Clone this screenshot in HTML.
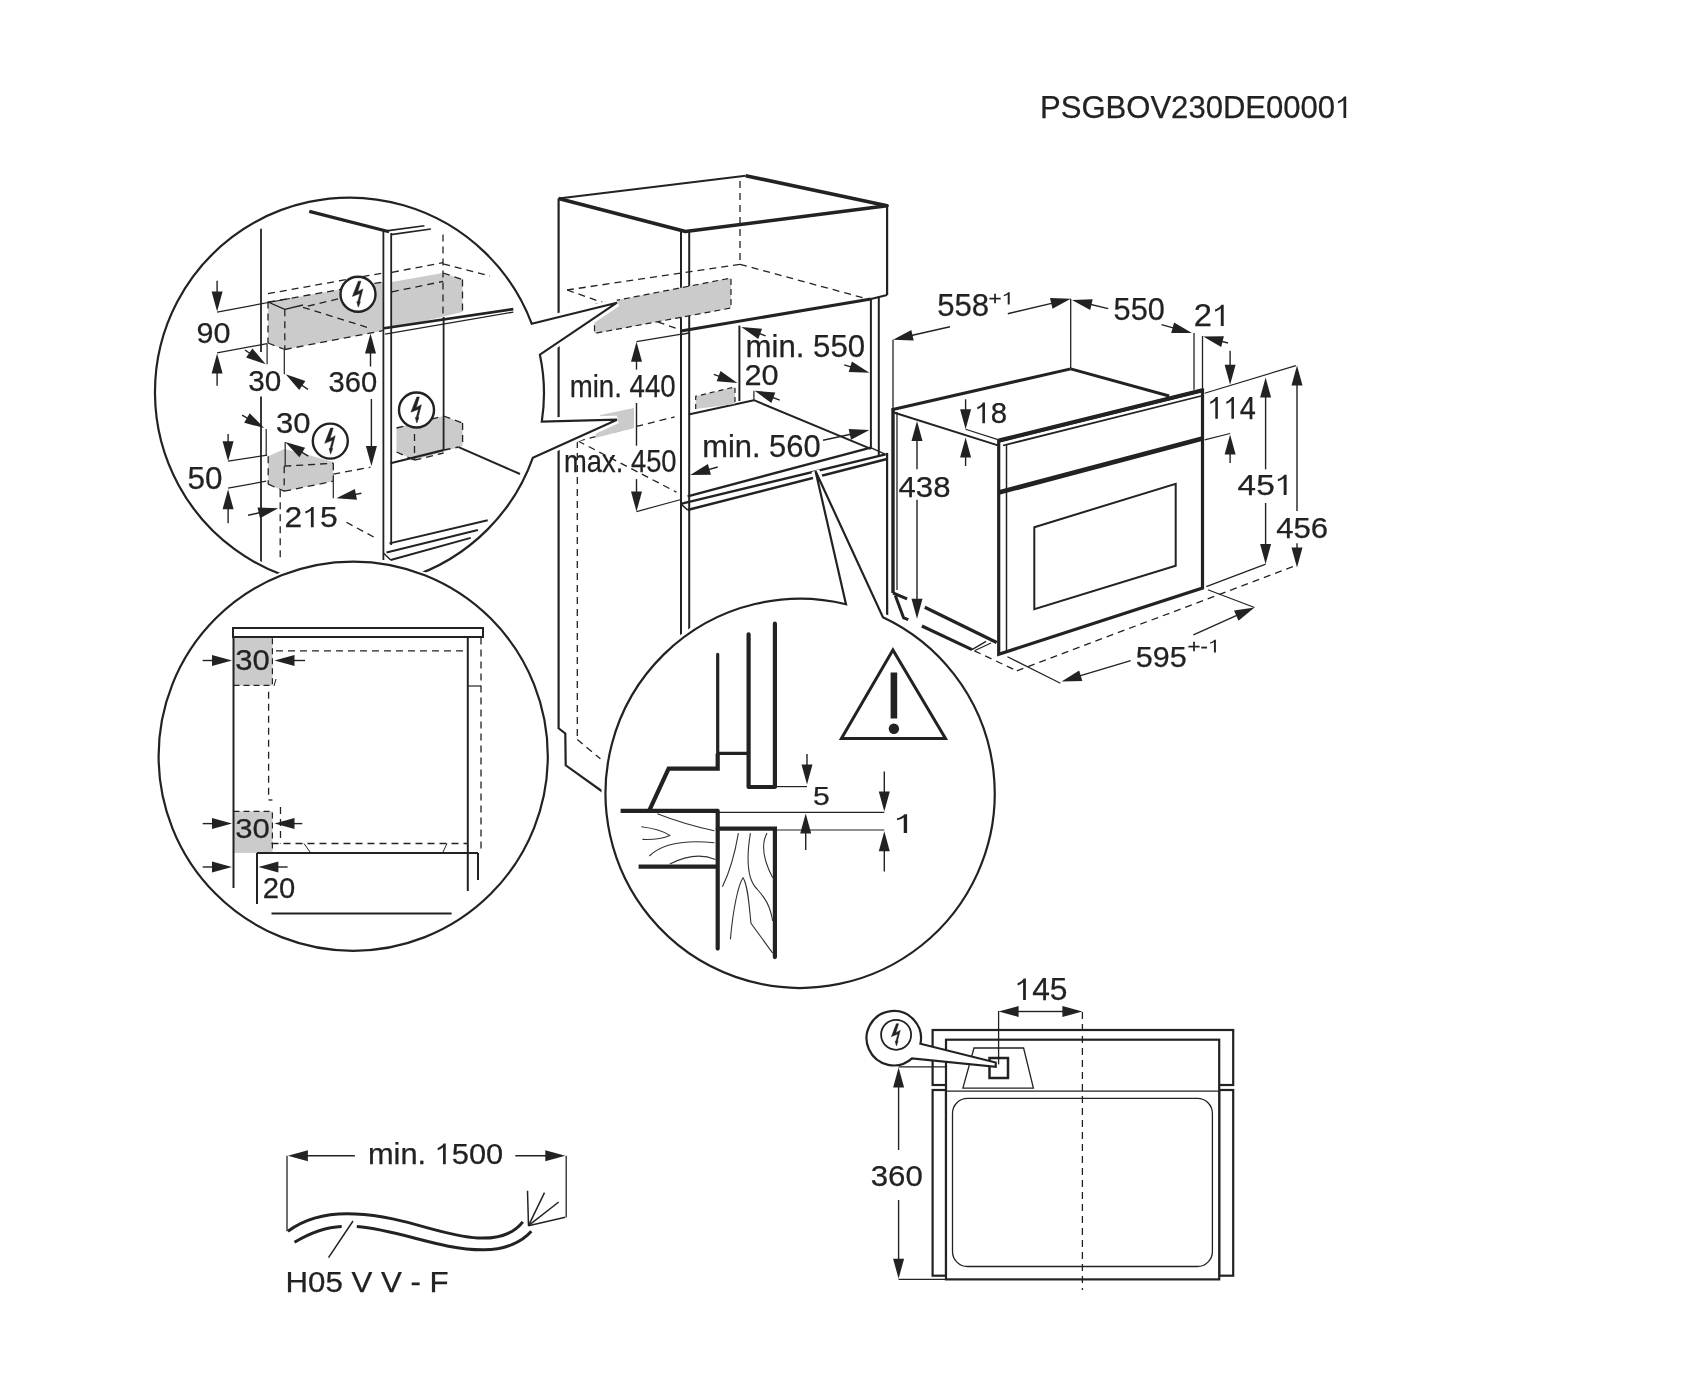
<!DOCTYPE html>
<html><head><meta charset="utf-8"><style>
html,body{margin:0;padding:0;background:#fff;}
svg{display:block;will-change:transform;font-family:"Liberation Sans",sans-serif;font-kerning:none;}
</style></head><body>
<svg width="1696" height="1400" viewBox="0 0 1696 1400">
<rect width="1696" height="1400" fill="#fff"/>
<text x="1040.05" y="117.90" font-size="31.11" textLength="312.27" lengthAdjust="spacingAndGlyphs" fill="#222" stroke="#222" stroke-width="0.25">PSGBOV230DE0000 </text>
<line x1="558.6" y1="198.6" x2="745.7" y2="175.7" stroke="#222" stroke-width="2.0" stroke-linecap="butt"/>
<polyline points="558.6,198.6 685.5,231.5 887.1,205.7 745.7,175.7" fill="none" stroke="#222" stroke-width="3.6" stroke-linejoin="round" stroke-linecap="butt"/>
<line x1="740.0" y1="181.0" x2="740.0" y2="264.3" stroke="#222" stroke-width="1.3" stroke-dasharray="7,5" stroke-linecap="butt"/>
<line x1="740.0" y1="264.3" x2="871.4" y2="300.0" stroke="#222" stroke-width="1.3" stroke-dasharray="7,5" stroke-linecap="butt"/>
<line x1="740.0" y1="264.3" x2="567.1" y2="290.0" stroke="#222" stroke-width="1.3" stroke-dasharray="7,5" stroke-linecap="butt"/>
<line x1="567.1" y1="290.0" x2="677.0" y2="328.6" stroke="#222" stroke-width="1.3" stroke-dasharray="7,5" stroke-linecap="butt"/>
<polyline points="558.6,198.6 558.6,728.3 565.3,733.5 565.7,765.3 603.0,792.0" fill="none" stroke="#222" stroke-width="2.2" stroke-linejoin="miter" stroke-linecap="butt"/>
<line x1="681.0" y1="230.5" x2="681.0" y2="640.0" stroke="#222" stroke-width="2.0" stroke-linecap="butt"/>
<line x1="689.2" y1="232.0" x2="689.2" y2="640.0" stroke="#222" stroke-width="2.0" stroke-linecap="butt"/>
<line x1="887.1" y1="205.7" x2="887.1" y2="295.0" stroke="#222" stroke-width="2.2" stroke-linecap="butt"/>
<line x1="878.8" y1="296.5" x2="878.8" y2="456.0" stroke="#222" stroke-width="2.0" stroke-linecap="butt"/>
<line x1="870.9" y1="299.0" x2="870.9" y2="449.0" stroke="#222" stroke-width="2.0" stroke-linecap="butt"/>
<line x1="887.1" y1="452.9" x2="887.1" y2="617.4" stroke="#222" stroke-width="2.2" stroke-linecap="butt"/>
<line x1="681.0" y1="331.0" x2="871.0" y2="299.0" stroke="#222" stroke-width="3.0" stroke-linecap="butt"/>
<line x1="871.0" y1="299.0" x2="887.1" y2="295.0" stroke="#222" stroke-width="2.0" stroke-linecap="butt"/>
<line x1="681.0" y1="334.5" x2="689.0" y2="333.0" stroke="#222" stroke-width="1.5" stroke-linecap="butt"/>
<polygon points="594.5,304.6 731.0,278.0 731.0,308.0 594.5,333.4" fill="#cbcbcb" stroke="none" stroke-linejoin="miter" stroke-linecap="butt"/>
<polygon points="594.5,304.6 731.0,278.0 731.0,308.0 594.5,333.4" fill="none" stroke="#222" stroke-width="1.2" stroke-dasharray="6,4" stroke-linejoin="miter" stroke-linecap="butt"/>
<line x1="739.4" y1="325.6" x2="739.4" y2="401.0" stroke="#222" stroke-width="2.0" stroke-linecap="butt"/>
<line x1="688.6" y1="414.4" x2="753.9" y2="400.2" stroke="#222" stroke-width="2.0" stroke-linecap="butt"/>
<line x1="753.9" y1="400.2" x2="870.9" y2="448.9" stroke="#222" stroke-width="2.0" stroke-linecap="butt"/>
<polygon points="695.7,396.3 735.0,386.9 735.0,404.1 695.7,408.9" fill="#cbcbcb" stroke="none" stroke-linejoin="miter" stroke-linecap="butt"/>
<polyline points="695.7,408.9 695.7,396.3 735.0,386.9 735.0,404.1" fill="none" stroke="#222" stroke-width="1.2" stroke-dasharray="5,4" stroke-linejoin="miter" stroke-linecap="butt"/>
<line x1="687.6" y1="496.4" x2="870.7" y2="447.6" stroke="#222" stroke-width="2.4" stroke-linecap="butt"/>
<line x1="680.8" y1="503.9" x2="885.6" y2="454.4" stroke="#222" stroke-width="2.4" stroke-linecap="butt"/>
<line x1="687.6" y1="510.0" x2="887.0" y2="459.0" stroke="#222" stroke-width="2.4" stroke-linecap="butt"/>
<line x1="680.8" y1="503.9" x2="687.6" y2="510.0" stroke="#222" stroke-width="1.5" stroke-linecap="butt"/>
<line x1="870.7" y1="447.6" x2="885.6" y2="454.4" stroke="#222" stroke-width="1.5" stroke-linecap="butt"/>
<line x1="577.3" y1="441.0" x2="577.3" y2="739.6" stroke="#222" stroke-width="1.3" stroke-dasharray="7,5" stroke-linecap="butt"/>
<line x1="577.3" y1="739.6" x2="600.4" y2="758.8" stroke="#222" stroke-width="1.3" stroke-dasharray="7,5" stroke-linecap="butt"/>
<line x1="578.0" y1="441.0" x2="676.4" y2="492.1" stroke="#222" stroke-width="1.3" stroke-dasharray="7,5" stroke-linecap="butt"/>
<line x1="578.0" y1="441.0" x2="674.6" y2="416.9" stroke="#222" stroke-width="1.3" stroke-dasharray="7,5" stroke-linecap="butt"/>
<polygon points="600.0,415.0 634.0,408.0 634.0,428.0 595.0,438.0" fill="#cbcbcb" stroke="none" stroke-linejoin="miter" stroke-linecap="butt"/>
<line x1="636.5" y1="341.7" x2="680.0" y2="334.3" stroke="#222" stroke-width="1.2" stroke-linecap="butt"/>
<line x1="636.5" y1="369.6" x2="636.5" y2="353.7" stroke="#222" stroke-width="1.4" stroke-linecap="butt"/>
<polygon points="636.5,341.7 642.0,361.7 631.0,361.7" fill="#222"/>
<line x1="636.5" y1="403.0" x2="636.5" y2="445.7" stroke="#222" stroke-width="1.4" stroke-linecap="butt"/>
<line x1="636.5" y1="479.1" x2="636.5" y2="499.6" stroke="#222" stroke-width="1.4" stroke-linecap="butt"/>
<polygon points="636.5,511.6 631.0,491.6 642.0,491.6" fill="#222"/>
<line x1="636.5" y1="511.6" x2="681.0" y2="499.5" stroke="#222" stroke-width="1.2" stroke-linecap="butt"/>
<text x="569.66" y="397.40" font-size="30.81" textLength="106.02" lengthAdjust="spacingAndGlyphs" fill="#222" stroke="#222" stroke-width="0.25">min. 440</text>
<text x="564.08" y="471.70" font-size="30.52" textLength="112.48" lengthAdjust="spacingAndGlyphs" fill="#222" stroke="#222" stroke-width="0.25">max. 450</text>
<text x="745.53" y="357.00" font-size="30.81" textLength="119.59" lengthAdjust="spacingAndGlyphs" fill="#222" stroke="#222" stroke-width="0.25">min. 550</text>
<line x1="765.6" y1="335.8" x2="752.6" y2="331.1" stroke="#222" stroke-width="1.4" stroke-linecap="butt"/>
<polygon points="741.3,327.1 762.0,328.7 758.3,339.0" fill="#222"/>
<line x1="844.2" y1="364.9" x2="857.9" y2="369.2" stroke="#222" stroke-width="1.4" stroke-linecap="butt"/>
<polygon points="869.4,372.7 848.7,372.0 851.9,361.5" fill="#222"/>
<text x="744.46" y="384.50" font-size="28.78" textLength="34.14" lengthAdjust="spacingAndGlyphs" fill="#222" stroke="#222" stroke-width="0.25">20</text>
<line x1="713.8" y1="374.3" x2="726.1" y2="378.8" stroke="#222" stroke-width="1.4" stroke-linecap="butt"/>
<polygon points="737.4,382.9 716.7,381.2 720.5,370.9" fill="#222"/>
<line x1="779.8" y1="400.2" x2="765.8" y2="395.0" stroke="#222" stroke-width="1.4" stroke-linecap="butt"/>
<polygon points="754.6,390.8 775.3,392.6 771.4,402.9" fill="#222"/>
<line x1="753.9" y1="390.8" x2="753.9" y2="400.2" stroke="#222" stroke-width="1.2" stroke-linecap="butt"/>
<text x="702.15" y="456.60" font-size="30.52" textLength="118.56" lengthAdjust="spacingAndGlyphs" fill="#222" stroke="#222" stroke-width="0.25">min. 560</text>
<line x1="823.0" y1="440.3" x2="857.7" y2="432.7" stroke="#222" stroke-width="1.4" stroke-linecap="butt"/>
<polygon points="869.4,430.1 851.0,439.8 848.7,429.0" fill="#222"/>
<line x1="717.7" y1="467.0" x2="701.7" y2="471.6" stroke="#222" stroke-width="1.4" stroke-linecap="butt"/>
<polygon points="690.2,474.9 707.9,464.1 710.9,474.7" fill="#222"/>
<path d="M 532.8 457.8 A 194.6 194.6 0 1 1 531.7 323.7 L 617 302.7 L 539.9 354.7 Q 547 388 541.8 421.6 L 617 419.7 Z" fill="white" stroke="white" stroke-width="8" stroke-linejoin="bevel"/>
<path d="M 532.8 457.8 A 194.6 194.6 0 1 1 531.7 323.7 L 617 302.7 L 539.9 354.7 Q 547 388 541.8 421.6 L 617 419.7 Z" fill="none" stroke="#222" stroke-width="2.2" stroke-linejoin="miter"/>
<clipPath id="c1"><circle cx="349.6" cy="392.3" r="191.1"/></clipPath>
<g clip-path="url(#c1)">
<polygon points="268.0,302.2 382.8,282.0 382.8,330.7 284.8,349.5 268.0,343.0" fill="#cbcbcb" stroke="none" stroke-linejoin="miter" stroke-linecap="butt"/>
<polygon points="391.9,282.0 443.1,273.0 462.5,279.5 462.5,311.9 391.9,328.8" fill="#cbcbcb" stroke="none" stroke-linejoin="miter" stroke-linecap="butt"/>
<polygon points="268.2,456.2 284.5,449.0 312.0,456.0 333.3,462.0 333.3,481.2 284.2,491.2 268.2,484.2" fill="#cbcbcb" stroke="none" stroke-linejoin="miter" stroke-linecap="butt"/>
<polygon points="396.5,428.0 443.6,416.0 462.6,423.0 462.6,446.0 414.5,460.0 396.5,452.0" fill="#cbcbcb" stroke="none" stroke-linejoin="miter" stroke-linecap="butt"/>
<line x1="309.3" y1="211.4" x2="389.1" y2="231.8" stroke="#222" stroke-width="3.2" stroke-linecap="butt"/>
<line x1="386.4" y1="230.9" x2="424.4" y2="225.7" stroke="#222" stroke-width="1.6" stroke-linecap="butt"/>
<line x1="391.0" y1="234.6" x2="430.9" y2="229.0" stroke="#222" stroke-width="1.6" stroke-linecap="butt"/>
<line x1="383.4" y1="231.0" x2="383.4" y2="560.0" stroke="#222" stroke-width="1.8" stroke-linecap="butt"/>
<line x1="391.2" y1="233.0" x2="391.2" y2="545.0" stroke="#222" stroke-width="1.8" stroke-linecap="butt"/>
<line x1="261.0" y1="228.7" x2="261.0" y2="352.1" stroke="#222" stroke-width="1.8" stroke-linecap="butt"/>
<line x1="261.0" y1="396.4" x2="261.0" y2="575.0" stroke="#222" stroke-width="1.8" stroke-linecap="butt"/>
<line x1="443.0" y1="234.6" x2="443.0" y2="317.0" stroke="#222" stroke-width="1.3" stroke-dasharray="7,5" stroke-linecap="butt"/>
<line x1="462.5" y1="279.5" x2="462.5" y2="311.9" stroke="#222" stroke-width="1.3" stroke-dasharray="7,5" stroke-linecap="butt"/>
<line x1="443.6" y1="317.0" x2="443.6" y2="450.1" stroke="#222" stroke-width="1.8" stroke-linecap="butt"/>
<line x1="268.0" y1="293.7" x2="382.8" y2="273.0" stroke="#222" stroke-width="1.3" stroke-dasharray="7,5" stroke-linecap="butt"/>
<line x1="391.9" y1="272.3" x2="443.1" y2="262.6" stroke="#222" stroke-width="1.3" stroke-dasharray="7,5" stroke-linecap="butt"/>
<line x1="443.1" y1="263.9" x2="490.0" y2="276.0" stroke="#222" stroke-width="1.3" stroke-dasharray="7,5" stroke-linecap="butt"/>
<line x1="268.0" y1="302.2" x2="382.8" y2="282.0" stroke="#222" stroke-width="1.3" stroke-dasharray="7,5" stroke-linecap="butt"/>
<line x1="391.9" y1="291.8" x2="443.1" y2="281.4" stroke="#222" stroke-width="1.3" stroke-dasharray="7,5" stroke-linecap="butt"/>
<line x1="443.1" y1="273.0" x2="462.5" y2="279.5" stroke="#222" stroke-width="1.3" stroke-dasharray="7,5" stroke-linecap="butt"/>
<line x1="268.0" y1="301.5" x2="268.0" y2="343.0" stroke="#222" stroke-width="1.3" stroke-dasharray="7,5" stroke-linecap="butt"/>
<line x1="268.0" y1="302.0" x2="284.8" y2="309.3" stroke="#222" stroke-width="1.3" stroke-linecap="butt"/>
<line x1="284.8" y1="309.3" x2="303.0" y2="305.0" stroke="#222" stroke-width="1.3" stroke-linecap="butt"/>
<line x1="284.8" y1="309.3" x2="284.8" y2="349.5" stroke="#222" stroke-width="1.3" stroke-dasharray="7,5" stroke-linecap="butt"/>
<line x1="338.0" y1="298.9" x2="303.0" y2="307.3" stroke="#222" stroke-width="1.3" stroke-dasharray="7,5" stroke-linecap="butt"/>
<line x1="303.0" y1="307.3" x2="371.7" y2="328.8" stroke="#222" stroke-width="1.3" stroke-dasharray="7,5" stroke-linecap="butt"/>
<line x1="284.8" y1="349.5" x2="382.8" y2="330.7" stroke="#222" stroke-width="1.3" stroke-dasharray="7,5" stroke-linecap="butt"/>
<line x1="268.0" y1="343.0" x2="284.8" y2="349.5" stroke="#222" stroke-width="1.3" stroke-dasharray="7,5" stroke-linecap="butt"/>
<line x1="384.0" y1="328.2" x2="513.3" y2="309.1" stroke="#222" stroke-width="2.6" stroke-linecap="butt"/>
<line x1="385.0" y1="334.2" x2="513.3" y2="312.1" stroke="#222" stroke-width="1.3" stroke-linecap="butt"/>
<line x1="217.1" y1="280.7" x2="217.1" y2="299.4" stroke="#222" stroke-width="1.4" stroke-linecap="butt"/>
<polygon points="217.1,311.4 211.6,291.4 222.6,291.4" fill="#222"/>
<line x1="217.1" y1="312.1" x2="290.0" y2="298.5" stroke="#222" stroke-width="1.2" stroke-linecap="butt"/>
<line x1="217.1" y1="385.7" x2="217.1" y2="365.6" stroke="#222" stroke-width="1.4" stroke-linecap="butt"/>
<polygon points="217.1,353.6 222.6,373.6 211.6,373.6" fill="#222"/>
<line x1="217.1" y1="352.9" x2="267.1" y2="343.6" stroke="#222" stroke-width="1.2" stroke-linecap="butt"/>
<line x1="267.1" y1="343.6" x2="267.1" y2="364.3" stroke="#222" stroke-width="1.2" stroke-linecap="butt"/>
<text x="196.47" y="342.90" font-size="30.23" textLength="34.03" lengthAdjust="spacingAndGlyphs" fill="#222" stroke="#222" stroke-width="0.25">90</text>
<line x1="245.0" y1="350.0" x2="255.8" y2="357.5" stroke="#222" stroke-width="1.4" stroke-linecap="butt"/>
<polygon points="265.7,364.3 246.1,357.5 252.4,348.4" fill="#222"/>
<text x="248.17" y="391.40" font-size="30.23" textLength="32.99" lengthAdjust="spacingAndGlyphs" fill="#222" stroke="#222" stroke-width="0.25">30</text>
<line x1="307.9" y1="389.3" x2="295.6" y2="381.0" stroke="#222" stroke-width="1.4" stroke-linecap="butt"/>
<polygon points="285.7,374.3 305.4,380.9 299.2,390.1" fill="#222"/>
<line x1="284.3" y1="350.0" x2="284.3" y2="374.3" stroke="#222" stroke-width="1.2" stroke-linecap="butt"/>
<line x1="370.5" y1="366.4" x2="370.5" y2="345.5" stroke="#222" stroke-width="1.4" stroke-linecap="butt"/>
<polygon points="370.5,333.5 376.0,353.5 365.0,353.5" fill="#222"/>
<text x="328.59" y="392.40" font-size="29.94" textLength="48.65" lengthAdjust="spacingAndGlyphs" fill="#222" stroke="#222" stroke-width="0.25">360</text>
<line x1="371.4" y1="398.9" x2="371.4" y2="454.0" stroke="#222" stroke-width="1.4" stroke-linecap="butt"/>
<polygon points="371.4,466.0 365.9,446.0 376.9,446.0" fill="#222"/>
<line x1="333.3" y1="474.2" x2="370.4" y2="467.2" stroke="#222" stroke-width="1.3" stroke-dasharray="7,5" stroke-linecap="butt"/>
<line x1="266.2" y1="429.1" x2="266.2" y2="455.2" stroke="#222" stroke-width="1.2" stroke-linecap="butt"/>
<line x1="242.1" y1="415.1" x2="253.9" y2="422.0" stroke="#222" stroke-width="1.4" stroke-linecap="butt"/>
<polygon points="264.2,428.1 244.2,422.7 249.7,413.2" fill="#222"/>
<text x="276.02" y="433.10" font-size="29.07" textLength="34.49" lengthAdjust="spacingAndGlyphs" fill="#222" stroke="#222" stroke-width="0.25">30</text>
<line x1="308.3" y1="456.2" x2="295.4" y2="448.4" stroke="#222" stroke-width="1.4" stroke-linecap="butt"/>
<polygon points="285.2,442.1 305.1,447.8 299.4,457.2" fill="#222"/>
<line x1="285.2" y1="442.1" x2="285.2" y2="466.2" stroke="#222" stroke-width="1.2" stroke-linecap="butt"/>
<line x1="284.2" y1="466.2" x2="284.2" y2="491.2" stroke="#222" stroke-width="1.3" stroke-dasharray="7,5" stroke-linecap="butt"/>
<line x1="284.2" y1="466.2" x2="333.3" y2="463.2" stroke="#222" stroke-width="1.3" stroke-dasharray="7,5" stroke-linecap="butt"/>
<line x1="268.2" y1="456.2" x2="268.2" y2="484.2" stroke="#222" stroke-width="1.3" stroke-dasharray="7,5" stroke-linecap="butt"/>
<line x1="268.2" y1="484.2" x2="284.2" y2="491.2" stroke="#222" stroke-width="1.3" stroke-dasharray="7,5" stroke-linecap="butt"/>
<line x1="284.2" y1="491.2" x2="333.3" y2="481.2" stroke="#222" stroke-width="1.3" stroke-dasharray="7,5" stroke-linecap="butt"/>
<line x1="333.3" y1="463.2" x2="333.3" y2="481.2" stroke="#222" stroke-width="1.3" stroke-dasharray="7,5" stroke-linecap="butt"/>
<line x1="280.2" y1="490.2" x2="280.2" y2="562.0" stroke="#222" stroke-width="1.3" stroke-dasharray="7,5" stroke-linecap="butt"/>
<line x1="228.1" y1="461.2" x2="267.2" y2="455.2" stroke="#222" stroke-width="1.2" stroke-linecap="butt"/>
<line x1="228.1" y1="488.2" x2="266.2" y2="481.2" stroke="#222" stroke-width="1.2" stroke-linecap="butt"/>
<line x1="228.1" y1="434.1" x2="228.1" y2="449.2" stroke="#222" stroke-width="1.4" stroke-linecap="butt"/>
<polygon points="228.1,461.2 222.6,441.2 233.6,441.2" fill="#222"/>
<line x1="228.1" y1="523.3" x2="228.1" y2="501.2" stroke="#222" stroke-width="1.4" stroke-linecap="butt"/>
<polygon points="228.1,489.2 233.6,509.2 222.6,509.2" fill="#222"/>
<text x="187.49" y="488.75" font-size="30.52" textLength="34.99" lengthAdjust="spacingAndGlyphs" fill="#222" stroke="#222" stroke-width="0.25">50</text>
<line x1="248.1" y1="515.3" x2="266.5" y2="511.0" stroke="#222" stroke-width="1.4" stroke-linecap="butt"/>
<polygon points="278.2,508.3 260.0,518.2 257.5,507.5" fill="#222"/>
<line x1="333.3" y1="481.2" x2="333.3" y2="498.3" stroke="#222" stroke-width="1.2" stroke-linecap="butt"/>
<line x1="361.4" y1="493.2" x2="348.1" y2="495.9" stroke="#222" stroke-width="1.4" stroke-linecap="butt"/>
<polygon points="336.3,498.3 354.8,488.9 357.0,499.7" fill="#222"/>
<text x="284.60" y="527.30" font-size="29.51" textLength="53.03" lengthAdjust="spacingAndGlyphs" fill="#222" stroke="#222" stroke-width="0.25">2 5</text>
<line x1="346.4" y1="522.3" x2="374.4" y2="537.4" stroke="#222" stroke-width="1.3" stroke-dasharray="7,5" stroke-linecap="butt"/>
<line x1="414.5" y1="434.1" x2="414.5" y2="460.2" stroke="#222" stroke-width="1.3" stroke-dasharray="7,5" stroke-linecap="butt"/>
<line x1="396.5" y1="428.0" x2="443.6" y2="416.0" stroke="#222" stroke-width="1.3" stroke-dasharray="7,5" stroke-linecap="butt"/>
<line x1="443.6" y1="416.0" x2="462.6" y2="423.0" stroke="#222" stroke-width="1.3" stroke-dasharray="7,5" stroke-linecap="butt"/>
<line x1="462.6" y1="423.0" x2="462.6" y2="446.0" stroke="#222" stroke-width="1.3" stroke-dasharray="7,5" stroke-linecap="butt"/>
<line x1="396.5" y1="452.0" x2="414.5" y2="460.2" stroke="#222" stroke-width="1.3" stroke-dasharray="7,5" stroke-linecap="butt"/>
<line x1="414.5" y1="460.2" x2="443.6" y2="453.0" stroke="#222" stroke-width="1.3" stroke-dasharray="7,5" stroke-linecap="butt"/>
<line x1="390.5" y1="463.2" x2="443.6" y2="450.1" stroke="#222" stroke-width="2.2" stroke-linecap="butt"/>
<line x1="443.6" y1="450.1" x2="458.6" y2="447.1" stroke="#222" stroke-width="1.5" stroke-dasharray="7,5" stroke-linecap="butt"/>
<line x1="458.6" y1="447.1" x2="520.0" y2="474.0" stroke="#222" stroke-width="2.0" stroke-linecap="butt"/>
<line x1="389.5" y1="543.4" x2="487.7" y2="520.3" stroke="#222" stroke-width="2.0" stroke-linecap="butt"/>
<line x1="386.5" y1="552.5" x2="477.9" y2="530.0" stroke="#222" stroke-width="2.0" stroke-linecap="butt"/>
<line x1="390.7" y1="560.0" x2="470.7" y2="537.9" stroke="#222" stroke-width="2.0" stroke-linecap="butt"/>
<line x1="383.4" y1="553.0" x2="390.7" y2="560.0" stroke="#222" stroke-width="1.5" stroke-linecap="butt"/>
</g>
<circle cx="358" cy="294.2" r="17.5" fill="white" stroke="#222" stroke-width="2.4"/>
<polygon points="358.30,281.20 360.90,281.20 357.70,291.80 362.90,288.90 359.60,301.70 360.40,301.70 358.30,307.20 356.80,301.70 357.70,301.70 360.00,293.40 352.40,296.40" fill="#222" stroke="#222" stroke-width="0.50" stroke-linejoin="round"/>
<circle cx="416.5" cy="410" r="17.5" fill="white" stroke="#222" stroke-width="2.4"/>
<polygon points="416.80,397.00 419.40,397.00 416.20,407.60 421.40,404.70 418.10,417.50 418.90,417.50 416.80,423.00 415.30,417.50 416.20,417.50 418.50,409.20 410.90,412.20" fill="#222" stroke="#222" stroke-width="0.50" stroke-linejoin="round"/>
<circle cx="330.3" cy="441.1" r="17.5" fill="white" stroke="#222" stroke-width="2.4"/>
<polygon points="330.60,428.10 333.20,428.10 330.00,438.70 335.20,435.80 331.90,448.60 332.70,448.60 330.60,454.10 329.10,448.60 330.00,448.60 332.30,440.30 324.70,443.30" fill="#222" stroke="#222" stroke-width="0.50" stroke-linejoin="round"/>
<circle cx="353.2" cy="756.2" r="194.6" fill="white" stroke="white" stroke-width="6"/>
<circle cx="353.2" cy="756.2" r="194.6" fill="none" stroke="#222" stroke-width="2.2"/>
<rect x="233.5" y="637" width="39" height="48.5" fill="#cbcbcb"/>
<rect x="233.5" y="811.3" width="39" height="41.6" fill="#cbcbcb"/>
<polyline points="233.5,685.3 272.4,685.3 272.4,637.6" fill="none" stroke="#222" stroke-width="1.2" stroke-dasharray="6,4" stroke-linejoin="miter" stroke-linecap="butt"/>
<polyline points="233.5,811.3 272.4,811.3 272.4,852.9" fill="none" stroke="#222" stroke-width="1.2" stroke-dasharray="6,4" stroke-linejoin="miter" stroke-linecap="butt"/>
<rect x="233" y="628" width="250" height="9" fill="white" stroke="#222" stroke-width="2"/>
<line x1="233.5" y1="637.0" x2="233.5" y2="888.0" stroke="#222" stroke-width="2.0" stroke-linecap="butt"/>
<line x1="467.8" y1="637.0" x2="467.8" y2="891.0" stroke="#222" stroke-width="2.0" stroke-linecap="butt"/>
<line x1="276.0" y1="650.8" x2="467.8" y2="650.8" stroke="#222" stroke-width="1.3" stroke-dasharray="7,5" stroke-linecap="butt"/>
<line x1="268.6" y1="691.8" x2="268.6" y2="800.0" stroke="#222" stroke-width="1.3" stroke-dasharray="7,5" stroke-linecap="butt"/>
<line x1="268.6" y1="800.0" x2="272.4" y2="800.0" stroke="#222" stroke-width="1.3" stroke-linecap="butt"/>
<line x1="280.5" y1="807.0" x2="280.5" y2="843.5" stroke="#222" stroke-width="1.3" stroke-dasharray="7,5" stroke-linecap="butt"/>
<line x1="271.5" y1="843.5" x2="467.8" y2="843.5" stroke="#222" stroke-width="1.3" stroke-dasharray="7,5" stroke-linecap="butt"/>
<line x1="481.0" y1="637.6" x2="481.0" y2="850.0" stroke="#222" stroke-width="1.3" stroke-dasharray="7,5" stroke-linecap="butt"/>
<line x1="467.8" y1="686.0" x2="481.0" y2="686.0" stroke="#222" stroke-width="1.2" stroke-linecap="butt"/>
<line x1="274.0" y1="686.0" x2="276.0" y2="679.0" stroke="#222" stroke-width="1.0" stroke-linecap="butt"/>
<line x1="304.0" y1="843.5" x2="310.0" y2="852.0" stroke="#222" stroke-width="1.0" stroke-linecap="butt"/>
<line x1="447.0" y1="843.5" x2="443.0" y2="852.0" stroke="#222" stroke-width="1.0" stroke-linecap="butt"/>
<line x1="257.0" y1="852.9" x2="478.0" y2="852.9" stroke="#222" stroke-width="2.0" stroke-linecap="butt"/>
<line x1="257.0" y1="852.9" x2="257.0" y2="904.0" stroke="#222" stroke-width="2.0" stroke-linecap="butt"/>
<line x1="478.0" y1="852.9" x2="478.0" y2="880.0" stroke="#222" stroke-width="2.0" stroke-linecap="butt"/>
<line x1="271.5" y1="913.5" x2="451.6" y2="913.5" stroke="#222" stroke-width="2.0" stroke-linecap="butt"/>
<text x="235.22" y="669.80" font-size="29.51" textLength="34.60" lengthAdjust="spacingAndGlyphs" fill="#222" stroke="#222" stroke-width="0.25">30</text>
<text x="235.22" y="838.20" font-size="28.49" textLength="34.60" lengthAdjust="spacingAndGlyphs" fill="#222" stroke="#222" stroke-width="0.25">30</text>
<text x="262.73" y="898.30" font-size="29.51" textLength="32.51" lengthAdjust="spacingAndGlyphs" fill="#222" stroke="#222" stroke-width="0.25">20</text>
<line x1="202.7" y1="660.5" x2="220.0" y2="660.5" stroke="#222" stroke-width="1.4" stroke-linecap="butt"/>
<polygon points="232.0,660.5 212.0,666.0 212.0,655.0" fill="#222"/>
<line x1="305.0" y1="660.5" x2="286.5" y2="660.5" stroke="#222" stroke-width="1.4" stroke-linecap="butt"/>
<polygon points="274.5,660.5 294.5,655.0 294.5,666.0" fill="#222"/>
<line x1="202.7" y1="823.6" x2="220.0" y2="823.6" stroke="#222" stroke-width="1.4" stroke-linecap="butt"/>
<polygon points="232.0,823.6 212.0,829.1 212.0,818.1" fill="#222"/>
<line x1="302.3" y1="823.6" x2="286.5" y2="823.6" stroke="#222" stroke-width="1.4" stroke-linecap="butt"/>
<polygon points="274.5,823.6 294.5,818.1 294.5,829.1" fill="#222"/>
<line x1="202.7" y1="867.0" x2="220.0" y2="867.0" stroke="#222" stroke-width="1.4" stroke-linecap="butt"/>
<polygon points="232.0,867.0 212.0,872.5 212.0,861.5" fill="#222"/>
<line x1="287.6" y1="867.0" x2="270.4" y2="867.0" stroke="#222" stroke-width="1.4" stroke-linecap="butt"/>
<polygon points="258.4,867.0 278.4,861.5 278.4,872.5" fill="#222"/>
<path d="M 882.9 617.2 A 194.6 194.6 0 1 1 846 604.2 L 815.5 471 Z" fill="white" stroke="white" stroke-width="8" stroke-linejoin="bevel"/>
<path d="M 882.9 617.2 A 194.6 194.6 0 1 1 846 604.2 L 815.5 471 Z" fill="none" stroke="#222" stroke-width="2.2" stroke-linejoin="miter"/>
<polyline points="717.7,654.3 717.7,753.4 748.6,753.4" fill="none" stroke="#222" stroke-width="3.2" stroke-linejoin="miter" stroke-linecap="round"/>
<polyline points="748.6,634.3 748.6,787.0 774.9,787.0 774.9,623.7" fill="none" stroke="#222" stroke-width="4.2" stroke-linejoin="round" stroke-linecap="round"/>
<polyline points="717.7,753.4 717.7,768.6 668.6,768.6 649.1,810.9" fill="none" stroke="#222" stroke-width="4.2" stroke-linejoin="miter" stroke-linecap="butt"/>
<line x1="620.6" y1="810.9" x2="717.7" y2="810.9" stroke="#222" stroke-width="4.2" stroke-linecap="butt"/>
<line x1="717.7" y1="810.9" x2="717.7" y2="948.6" stroke="#222" stroke-width="4.2" stroke-linecap="round"/>
<line x1="638.6" y1="866.6" x2="717.7" y2="866.6" stroke="#222" stroke-width="4.2" stroke-linecap="butt"/>
<polyline points="717.7,828.6 774.9,828.6 774.9,957.1" fill="none" stroke="#222" stroke-width="4.2" stroke-linejoin="miter" stroke-linecap="round"/>
<path d="M 657.3 813.7 Q 683.5 824 714.4 830.8" fill="none" stroke="#333" stroke-width="1.1"/>
<path d="M 641.3 826.8 Q 660 829 669.8 835.4 Q 660 840 642.4 839.4" fill="none" stroke="#333" stroke-width="1.1"/>
<path d="M 649.3 856 Q 668 838 714.4 842.8" fill="none" stroke="#333" stroke-width="1.1"/>
<path d="M 669.8 864 Q 695 851 715.5 859.4" fill="none" stroke="#333" stroke-width="1.1"/>
<path d="M 738.4 833.1 Q 733 865 722.4 886.8" fill="none" stroke="#333" stroke-width="1.1"/>
<path d="M 750.4 833.1 C 746 860 748 880 757 889 C 765 898 770 905 772.7 921" fill="none" stroke="#333" stroke-width="1.1"/>
<path d="M 767 833.1 Q 758 850 772.7 877.7" fill="none" stroke="#333" stroke-width="1.1"/>
<path d="M 730.4 939.4 C 733 910 738 885 743 877.7 C 748 885 749 905 751 923.4 L 772.7 953.1" fill="none" stroke="#333" stroke-width="1.1"/>
<line x1="777.0" y1="786.6" x2="807.0" y2="786.6" stroke="#222" stroke-width="1.2" stroke-linecap="butt"/>
<line x1="807.0" y1="754.0" x2="807.0" y2="772.5" stroke="#222" stroke-width="1.4" stroke-linecap="butt"/>
<polygon points="807.0,784.5 801.5,764.5 812.5,764.5" fill="#222"/>
<text x="813.09" y="804.90" font-size="25.73" textLength="16.77" lengthAdjust="spacingAndGlyphs" fill="#222" stroke="#222" stroke-width="0.25">5</text>
<line x1="717.7" y1="812.3" x2="884.3" y2="812.3" stroke="#222" stroke-width="1.2" stroke-linecap="butt"/>
<line x1="774.9" y1="830.0" x2="884.3" y2="830.0" stroke="#222" stroke-width="1.2" stroke-linecap="butt"/>
<line x1="884.3" y1="771.4" x2="884.3" y2="799.4" stroke="#222" stroke-width="1.4" stroke-linecap="butt"/>
<polygon points="884.3,811.4 878.8,791.4 889.8,791.4" fill="#222"/>
<line x1="884.3" y1="871.4" x2="884.3" y2="843.2" stroke="#222" stroke-width="1.4" stroke-linecap="butt"/>
<polygon points="884.3,831.2 889.8,851.2 878.8,851.2" fill="#222"/>
<line x1="805.7" y1="850.0" x2="805.7" y2="825.5" stroke="#222" stroke-width="1.4" stroke-linecap="butt"/>
<polygon points="805.7,813.5 811.2,833.5 800.2,833.5" fill="#222"/>
<text x="893.36" y="832.90" font-size="27.04" textLength="21.29" lengthAdjust="spacingAndGlyphs" fill="#222" stroke="#222" stroke-width="0.25"> </text>
<polygon points="892.9,650.0 841.4,738.6 945.5,738.6" fill="none" stroke="#222" stroke-width="3.0" stroke-linejoin="miter" stroke-linecap="butt"/>
<rect x="890.6" y="672.5" width="6.6" height="46" fill="#222"/>
<circle cx="893.9" cy="728.8" r="5.2" fill="#222"/>
<line x1="887.1" y1="600.0" x2="887.1" y2="614.2" stroke="#222" stroke-width="2.0" stroke-linecap="butt"/>
<line x1="891.7" y1="409.7" x2="1070.7" y2="368.9" stroke="#222" stroke-width="3.0" stroke-linecap="butt"/>
<line x1="1070.7" y1="368.9" x2="1169.2" y2="396.0" stroke="#222" stroke-width="3.0" stroke-linecap="butt"/>
<line x1="893.0" y1="412.3" x2="998.0" y2="445.4" stroke="#222" stroke-width="2.0" stroke-linecap="butt"/>
<line x1="893.0" y1="408.5" x2="893.0" y2="593.0" stroke="#222" stroke-width="3.4" stroke-linecap="butt"/>
<line x1="897.0" y1="412.0" x2="897.0" y2="590.0" stroke="#222" stroke-width="1.3" stroke-linecap="butt"/>
<polygon points="998.7,440.9 1202.5,390.4 1202.5,588 998.7,654.3" fill="white" stroke="#222" stroke-width="3.2" stroke-linejoin="miter"/>
<line x1="998.7" y1="440.6" x2="1202.5" y2="390.2" stroke="#222" stroke-width="4.2" stroke-linecap="butt"/>
<line x1="1006.5" y1="444.0" x2="1006.5" y2="652.0" stroke="#222" stroke-width="1.5" stroke-linecap="butt"/>
<line x1="1003.0" y1="445.5" x2="1201.0" y2="396.0" stroke="#222" stroke-width="1.8" stroke-linecap="butt"/>
<line x1="998.7" y1="492.5" x2="1202.5" y2="438.5" stroke="#222" stroke-width="4.8" stroke-linecap="butt"/>
<polygon points="1034.3,527.2 1175.7,483.8 1175.7,565.7 1034.3,609.1" fill="none" stroke="#222" stroke-width="2.0" stroke-linejoin="miter" stroke-linecap="butt"/>
<polyline points="893.0,593.0 907.1,598.9" fill="none" stroke="#222" stroke-width="3.0" stroke-linejoin="miter" stroke-linecap="butt"/>
<polyline points="895.3,595.4 903.6,617.8 908.3,619.6" fill="none" stroke="#222" stroke-width="3.0" stroke-linejoin="miter" stroke-linecap="butt"/>
<line x1="924.8" y1="607.2" x2="996.7" y2="642.5" stroke="#222" stroke-width="3.2" stroke-linecap="butt"/>
<line x1="921.9" y1="626.0" x2="972.0" y2="649.6" stroke="#222" stroke-width="3.2" stroke-linecap="butt"/>
<line x1="972.0" y1="649.6" x2="986.1" y2="641.4" stroke="#222" stroke-width="1.3" stroke-linecap="butt"/>
<line x1="975.0" y1="650.5" x2="991.0" y2="643.0" stroke="#222" stroke-width="1.3" stroke-linecap="butt"/>
<line x1="974.3" y1="650.8" x2="1016.8" y2="670.8" stroke="#222" stroke-width="1.3" stroke-dasharray="7,5" stroke-linecap="butt"/>
<line x1="1016.8" y1="670.8" x2="1294.7" y2="566.0" stroke="#222" stroke-width="1.3" stroke-dasharray="7,5" stroke-linecap="butt"/>
<text x="937.15" y="316.30" font-size="31.11" textLength="51.90" lengthAdjust="spacingAndGlyphs" fill="#222" stroke="#222" stroke-width="0.25">558</text>
<text x="988.50" y="304.60" font-size="17.88" textLength="25.63" lengthAdjust="spacingAndGlyphs" fill="#222" stroke="#222" stroke-width="0.25">+ </text>
<line x1="950.0" y1="326.7" x2="904.7" y2="337.0" stroke="#222" stroke-width="1.4" stroke-linecap="butt"/>
<polygon points="893.0,339.7 911.3,329.9 913.7,340.6" fill="#222"/>
<line x1="1007.8" y1="313.7" x2="1059.0" y2="301.6" stroke="#222" stroke-width="1.4" stroke-linecap="butt"/>
<polygon points="1070.7,298.8 1052.5,308.8 1050.0,298.1" fill="#222"/>
<line x1="893.0" y1="339.7" x2="893.0" y2="409.7" stroke="#222" stroke-width="1.3" stroke-linecap="butt"/>
<line x1="1070.7" y1="298.8" x2="1070.7" y2="368.2" stroke="#222" stroke-width="1.3" stroke-linecap="butt"/>
<text x="1113.57" y="320.30" font-size="31.40" textLength="51.23" lengthAdjust="spacingAndGlyphs" fill="#222" stroke="#222" stroke-width="0.25">550</text>
<line x1="1108.2" y1="308.6" x2="1083.7" y2="302.8" stroke="#222" stroke-width="1.4" stroke-linecap="butt"/>
<polygon points="1072.0,300.0 1092.7,299.3 1090.2,310.0" fill="#222"/>
<line x1="1161.5" y1="324.6" x2="1180.3" y2="329.9" stroke="#222" stroke-width="1.4" stroke-linecap="butt"/>
<polygon points="1191.9,333.1 1171.2,333.0 1174.1,322.4" fill="#222"/>
<line x1="1194.0" y1="333.1" x2="1194.0" y2="389.7" stroke="#222" stroke-width="1.3" stroke-linecap="butt"/>
<text x="1193.75" y="326.00" font-size="30.81" textLength="36.40" lengthAdjust="spacingAndGlyphs" fill="#222" stroke="#222" stroke-width="0.25">2 </text>
<line x1="1202.5" y1="335.9" x2="1202.5" y2="391.8" stroke="#222" stroke-width="1.3" stroke-linecap="butt"/>
<line x1="1228.0" y1="343.0" x2="1214.8" y2="339.6" stroke="#222" stroke-width="1.4" stroke-linecap="butt"/>
<polygon points="1203.2,336.6 1223.9,336.3 1221.2,346.9" fill="#222"/>
<line x1="1230.1" y1="350.8" x2="1230.1" y2="372.7" stroke="#222" stroke-width="1.4" stroke-linecap="butt"/>
<polygon points="1230.1,384.7 1224.6,364.7 1235.6,364.7" fill="#222"/>
<line x1="1204.6" y1="393.2" x2="1295.9" y2="365.6" stroke="#222" stroke-width="1.2" stroke-linecap="butt"/>
<text x="1207.47" y="418.70" font-size="31.69" textLength="48.27" lengthAdjust="spacingAndGlyphs" fill="#222" stroke="#222" stroke-width="0.25">  4</text>
<line x1="1204.6" y1="439.9" x2="1230.1" y2="433.5" stroke="#222" stroke-width="1.2" stroke-linecap="butt"/>
<line x1="1230.1" y1="462.9" x2="1230.1" y2="446.5" stroke="#222" stroke-width="1.4" stroke-linecap="butt"/>
<polygon points="1230.1,434.5 1235.6,454.5 1224.6,454.5" fill="#222"/>
<line x1="1265.6" y1="469.3" x2="1265.6" y2="389.6" stroke="#222" stroke-width="1.4" stroke-linecap="butt"/>
<polygon points="1265.6,377.6 1271.1,397.6 1260.1,397.6" fill="#222"/>
<line x1="1265.6" y1="503.0" x2="1265.6" y2="552.1" stroke="#222" stroke-width="1.4" stroke-linecap="butt"/>
<polygon points="1265.6,564.1 1260.1,544.1 1271.1,544.1" fill="#222"/>
<text x="1237.64" y="495.00" font-size="29.51" textLength="55.53" lengthAdjust="spacingAndGlyphs" fill="#222" stroke="#222" stroke-width="0.25">45 </text>
<line x1="1206.3" y1="586.6" x2="1265.7" y2="564.1" stroke="#222" stroke-width="1.2" stroke-linecap="butt"/>
<line x1="1297.0" y1="511.1" x2="1297.0" y2="377.6" stroke="#222" stroke-width="1.4" stroke-linecap="butt"/>
<polygon points="1297.0,365.6 1302.5,385.6 1291.5,385.6" fill="#222"/>
<line x1="1297.0" y1="543.2" x2="1297.0" y2="555.5" stroke="#222" stroke-width="1.4" stroke-linecap="butt"/>
<polygon points="1297.0,567.5 1291.5,547.5 1302.5,547.5" fill="#222"/>
<text x="1276.29" y="538.40" font-size="29.51" textLength="51.88" lengthAdjust="spacingAndGlyphs" fill="#222" stroke="#222" stroke-width="0.25">456</text>
<text x="898.59" y="496.60" font-size="30.38" textLength="51.86" lengthAdjust="spacingAndGlyphs" fill="#222" stroke="#222" stroke-width="0.25">438</text>
<line x1="917.0" y1="469.3" x2="917.0" y2="433.1" stroke="#222" stroke-width="1.4" stroke-linecap="butt"/>
<polygon points="917.0,421.1 922.5,441.1 911.5,441.1" fill="#222"/>
<line x1="917.0" y1="499.8" x2="917.0" y2="606.8" stroke="#222" stroke-width="1.4" stroke-linecap="butt"/>
<polygon points="917.0,618.8 911.5,598.8 922.5,598.8" fill="#222"/>
<text x="974.43" y="423.30" font-size="30.09" textLength="32.64" lengthAdjust="spacingAndGlyphs" fill="#222" stroke="#222" stroke-width="0.25"> 8</text>
<line x1="965.6" y1="399.3" x2="965.6" y2="417.2" stroke="#222" stroke-width="1.4" stroke-linecap="butt"/>
<polygon points="965.6,429.2 960.1,409.2 971.1,409.2" fill="#222"/>
<line x1="965.6" y1="429.2" x2="998.0" y2="439.6" stroke="#222" stroke-width="1.2" stroke-linecap="butt"/>
<line x1="965.6" y1="466.0" x2="965.6" y2="449.6" stroke="#222" stroke-width="1.4" stroke-linecap="butt"/>
<polygon points="965.6,437.6 971.1,457.6 960.1,457.6" fill="#222"/>
<text x="1135.88" y="667.00" font-size="29.51" textLength="50.80" lengthAdjust="spacingAndGlyphs" fill="#222" stroke="#222" stroke-width="0.25">595</text>
<text x="1187.51" y="652.50" font-size="18.60" textLength="32.78" lengthAdjust="spacingAndGlyphs" fill="#222" stroke="#222" stroke-width="0.25">+- </text>
<line x1="1130.7" y1="660.6" x2="1073.1" y2="677.9" stroke="#222" stroke-width="1.4" stroke-linecap="butt"/>
<polygon points="1061.6,681.4 1079.2,670.4 1082.3,680.9" fill="#222"/>
<line x1="1193.4" y1="634.8" x2="1243.5" y2="612.4" stroke="#222" stroke-width="1.4" stroke-linecap="butt"/>
<polygon points="1254.5,607.5 1238.5,620.7 1234.0,610.6" fill="#222"/>
<line x1="1007.4" y1="656.7" x2="1060.4" y2="683.2" stroke="#222" stroke-width="1.2" stroke-linecap="butt"/>
<line x1="1207.9" y1="589.8" x2="1254.5" y2="607.5" stroke="#222" stroke-width="1.2" stroke-linecap="butt"/>
<rect x="932.6" y="1030" width="300.6" height="55" fill="none" stroke="#222" stroke-width="2.2"/>
<rect x="932.6" y="1090" width="13.4" height="185.7" fill="none" stroke="#222" stroke-width="2.2"/>
<rect x="1219.2" y="1090" width="14" height="185.7" fill="none" stroke="#222" stroke-width="2.2"/>
<rect x="946" y="1039.7" width="273.2" height="239.7" fill="white" stroke="#222" stroke-width="2.2"/>
<line x1="946.0" y1="1091.1" x2="1219.2" y2="1091.1" stroke="#222" stroke-width="1.3" stroke-linecap="butt"/>
<rect x="952.5" y="1098.4" width="259.9" height="168.1" rx="15" fill="none" stroke="#222" stroke-width="1.3"/>
<line x1="1082.4" y1="1012.0" x2="1082.4" y2="1290.0" stroke="#222" stroke-width="1.3" stroke-dasharray="7,5" stroke-linecap="butt"/>
<polygon points="974.0,1048.0 1023.6,1048.0 1033.4,1088.2 962.9,1088.2" fill="none" stroke="#222" stroke-width="1.3" stroke-linejoin="miter" stroke-linecap="butt"/>
<rect x="989.5" y="1058" width="18.5" height="20" fill="white" stroke="#222" stroke-width="2.5"/>
<path d="M 920.4 1043.8 L 995.7 1062.5 L 995.7 1066.9 L 912 1058.4 A 27.2 27.2 0 1 1 920.4 1043.8 Z" fill="white" stroke="#222" stroke-width="2.2"/>
<circle cx="896.1" cy="1034.8" r="15" fill="white" stroke="#222" stroke-width="1.8"/>
<polygon points="896.36,1023.66 898.59,1023.66 895.84,1032.74 900.30,1030.26 897.47,1041.23 898.16,1041.23 896.36,1045.94 895.07,1041.23 895.84,1041.23 897.81,1034.11 891.30,1036.69" fill="#222" stroke="#222" stroke-width="0.43" stroke-linejoin="round"/>
<line x1="998.6" y1="1011.0" x2="998.6" y2="1064.4" stroke="#222" stroke-width="1.3" stroke-linecap="butt"/>
<line x1="1040.0" y1="1011.5" x2="1010.6" y2="1011.5" stroke="#222" stroke-width="1.4" stroke-linecap="butt"/>
<polygon points="998.6,1011.5 1018.6,1006.0 1018.6,1017.0" fill="#222"/>
<line x1="1040.0" y1="1011.5" x2="1070.4" y2="1011.5" stroke="#222" stroke-width="1.4" stroke-linecap="butt"/>
<polygon points="1082.4,1011.5 1062.4,1017.0 1062.4,1006.0" fill="#222"/>
<text x="1014.50" y="1000.10" font-size="31.25" textLength="52.93" lengthAdjust="spacingAndGlyphs" fill="#222" stroke="#222" stroke-width="0.25"> 45</text>
<line x1="898.6" y1="1066.9" x2="946.0" y2="1066.9" stroke="#222" stroke-width="1.2" stroke-linecap="butt"/>
<line x1="898.6" y1="1279.4" x2="946.0" y2="1279.4" stroke="#222" stroke-width="1.2" stroke-linecap="butt"/>
<line x1="898.6" y1="1150.0" x2="898.6" y2="1079.5" stroke="#222" stroke-width="1.4" stroke-linecap="butt"/>
<polygon points="898.6,1067.5 904.1,1087.5 893.1,1087.5" fill="#222"/>
<line x1="898.6" y1="1200.0" x2="898.6" y2="1266.7" stroke="#222" stroke-width="1.4" stroke-linecap="butt"/>
<polygon points="898.6,1278.7 893.1,1258.7 904.1,1258.7" fill="#222"/>
<text x="870.71" y="1185.90" font-size="30.09" textLength="52.11" lengthAdjust="spacingAndGlyphs" fill="#222" stroke="#222" stroke-width="0.25">360</text>
<line x1="287.0" y1="1155.8" x2="287.0" y2="1231.3" stroke="#222" stroke-width="1.3" stroke-linecap="butt"/>
<line x1="566.2" y1="1155.8" x2="566.2" y2="1217.2" stroke="#222" stroke-width="1.3" stroke-linecap="butt"/>
<line x1="354.9" y1="1155.8" x2="299.9" y2="1155.8" stroke="#222" stroke-width="1.4" stroke-linecap="butt"/>
<polygon points="287.9,1155.8 307.9,1150.3 307.9,1161.3" fill="#222"/>
<line x1="515.3" y1="1155.8" x2="553.3" y2="1155.8" stroke="#222" stroke-width="1.4" stroke-linecap="butt"/>
<polygon points="565.3,1155.8 545.3,1161.3 545.3,1150.3" fill="#222"/>
<text x="367.95" y="1164.30" font-size="30.16" textLength="135.25" lengthAdjust="spacingAndGlyphs" fill="#222" stroke="#222" stroke-width="0.25">min.  500</text>
<path d="M 287.9 1231.3 C 310 1215 335 1213 355 1214 C 405 1216 440 1236 478 1238 C 500 1239 515 1232 522.8 1221.9" fill="none" stroke="#222" stroke-width="3"/>
<path d="M 294.5 1242.3 C 312 1232 328 1227 341.7 1226.6" fill="none" stroke="#222" stroke-width="3"/>
<path d="M 356.8 1226.6 C 400 1230 440 1250 483.2 1249.8 C 505 1250 522 1242 531.3 1231.3" fill="none" stroke="#222" stroke-width="3"/>
<line x1="528.5" y1="1225.7" x2="527.5" y2="1190.8" stroke="#222" stroke-width="1.5" stroke-linecap="butt"/>
<line x1="528.5" y1="1225.7" x2="544.5" y2="1192.6" stroke="#222" stroke-width="1.5" stroke-linecap="butt"/>
<line x1="528.5" y1="1225.7" x2="558.7" y2="1202.0" stroke="#222" stroke-width="1.5" stroke-linecap="butt"/>
<line x1="528.5" y1="1225.7" x2="565.3" y2="1217.2" stroke="#222" stroke-width="1.5" stroke-linecap="butt"/>
<line x1="353.0" y1="1221.0" x2="328.5" y2="1257.7" stroke="#222" stroke-width="1.5" stroke-linecap="butt"/>
<text x="285.44" y="1291.70" font-size="30.16" textLength="163.21" lengthAdjust="spacingAndGlyphs" fill="#222" stroke="#222" stroke-width="0.25">H05 V V - F</text>
<path d="M555 0L735 0L735 1409L590 1409L540 1330L440 1235L310 1150L200 1115L200 955L330 1010L450 1080L555 1160Z" transform="translate(1335.05,117.90) scale(0.01516,-0.01519)" fill="#222"/>
<path d="M555 0L735 0L735 1409L590 1409L540 1330L440 1235L310 1150L200 1115L200 955L330 1010L450 1080L555 1160Z" transform="translate(302.27,527.30) scale(0.01553,-0.01441)" fill="#222"/>
<path d="M555 0L735 0L735 1409L590 1409L540 1330L440 1235L310 1150L200 1115L200 955L330 1010L450 1080L555 1160Z" transform="translate(893.36,832.90) scale(0.01869,-0.01320)" fill="#222"/>
<path d="M555 0L735 0L735 1409L590 1409L540 1330L440 1235L310 1150L200 1115L200 955L330 1010L450 1080L555 1160Z" transform="translate(1001.61,304.60) scale(0.01099,-0.00873)" fill="#222"/>
<path d="M555 0L735 0L735 1409L590 1409L540 1330L440 1235L310 1150L200 1115L200 955L330 1010L450 1080L555 1160Z" transform="translate(1211.94,326.00) scale(0.01599,-0.01505)" fill="#222"/>
<path d="M555 0L735 0L735 1409L590 1409L540 1330L440 1235L310 1150L200 1115L200 955L330 1010L450 1080L555 1160Z" transform="translate(1207.47,418.70) scale(0.01413,-0.01547)" fill="#222"/>
<path d="M555 0L735 0L735 1409L590 1409L540 1330L440 1235L310 1150L200 1115L200 955L330 1010L450 1080L555 1160Z" transform="translate(1223.55,418.70) scale(0.01414,-0.01547)" fill="#222"/>
<path d="M555 0L735 0L735 1409L590 1409L540 1330L440 1235L310 1150L200 1115L200 955L330 1010L450 1080L555 1160Z" transform="translate(1274.65,495.00) scale(0.01626,-0.01441)" fill="#222"/>
<path d="M555 0L735 0L735 1409L590 1409L540 1330L440 1235L310 1150L200 1115L200 955L330 1010L450 1080L555 1160Z" transform="translate(974.43,423.30) scale(0.01433,-0.01469)" fill="#222"/>
<path d="M555 0L735 0L735 1409L590 1409L540 1330L440 1235L310 1150L200 1115L200 955L330 1010L450 1080L555 1160Z" transform="translate(1207.90,652.50) scale(0.01088,-0.00908)" fill="#222"/>
<path d="M555 0L735 0L735 1409L590 1409L540 1330L440 1235L310 1150L200 1115L200 955L330 1010L450 1080L555 1160Z" transform="translate(1014.50,1000.10) scale(0.01550,-0.01526)" fill="#222"/>
<path d="M555 0L735 0L735 1409L590 1409L540 1330L440 1235L310 1150L200 1115L200 955L330 1010L450 1080L555 1160Z" transform="translate(434.68,1164.30) scale(0.01505,-0.01473)" fill="#222"/>
</svg></body></html>
